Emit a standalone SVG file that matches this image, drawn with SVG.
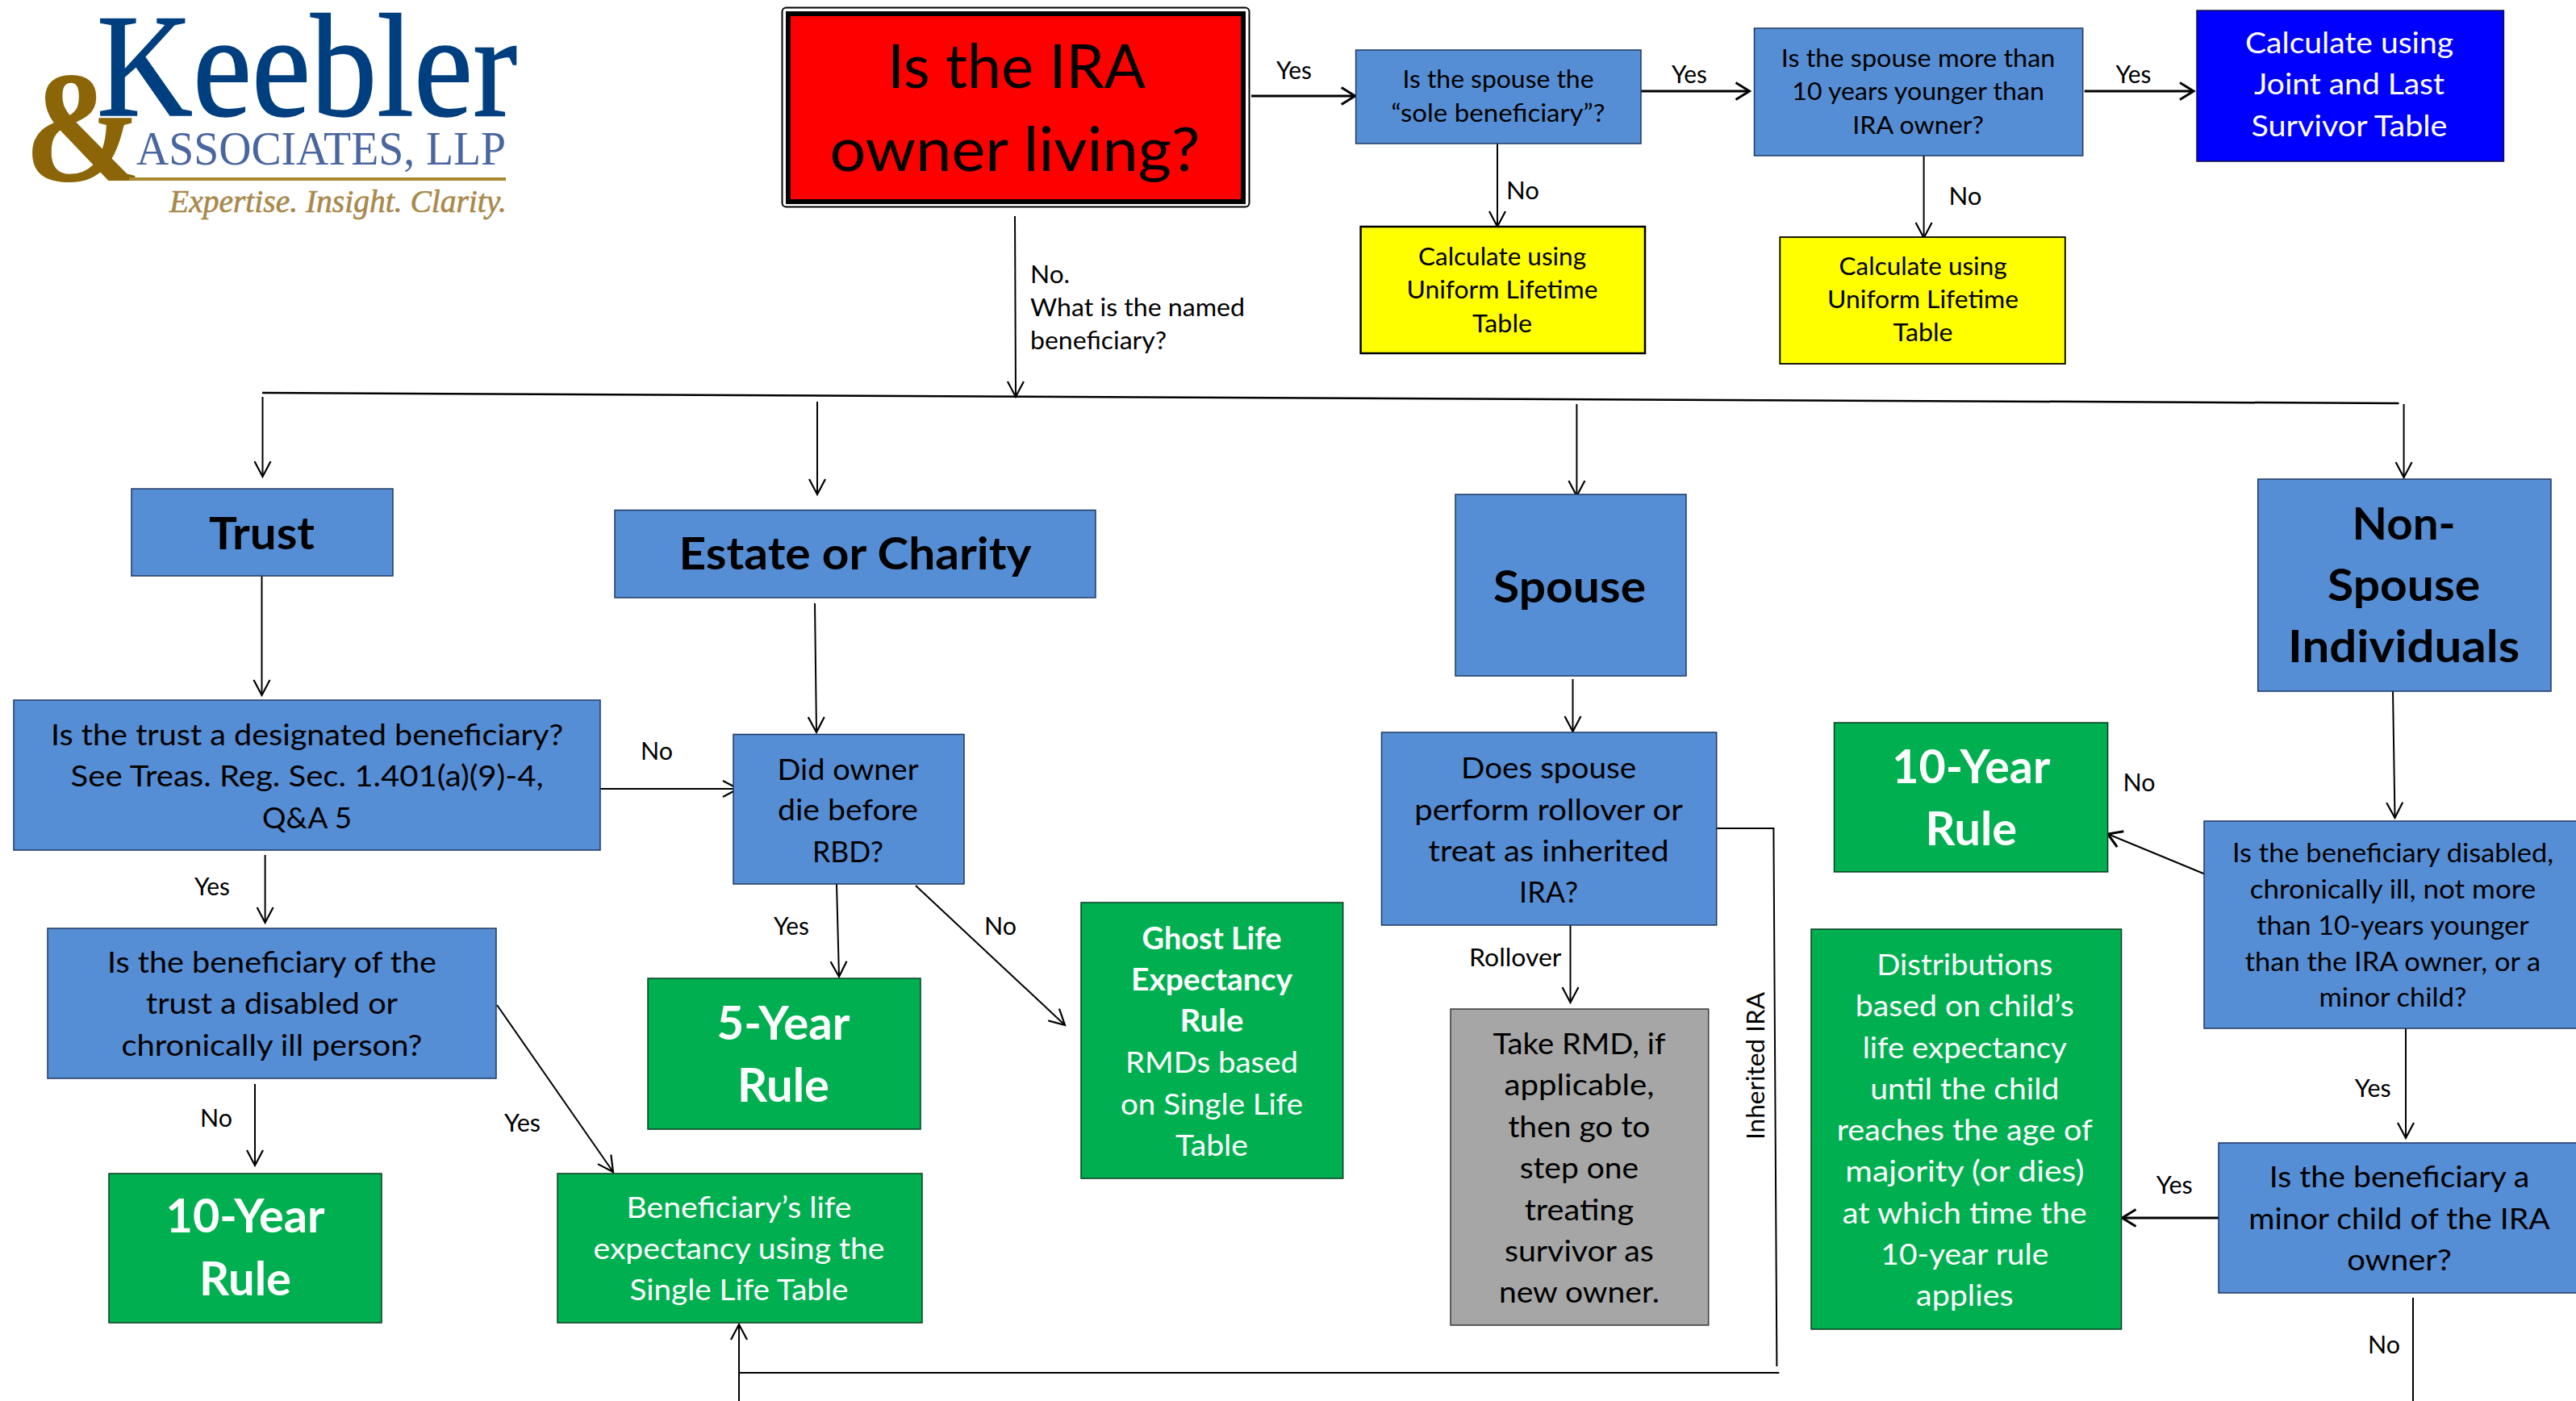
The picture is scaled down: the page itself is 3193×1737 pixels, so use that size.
<svg xmlns="http://www.w3.org/2000/svg" width="3193" height="1737" viewBox="0 0 3193 1737">
<defs>
<marker id="arr" markerUnits="userSpaceOnUse" markerWidth="26" markerHeight="26" refX="23" refY="13" orient="auto"><path d="M4,3 L23,13 L4,23" fill="none" stroke="#000" stroke-width="2.2"/></marker>
<marker id="arrB" markerUnits="userSpaceOnUse" markerWidth="26" markerHeight="28" refX="23" refY="14" orient="auto"><path d="M6,3.500 L23,14 L6,24.500" fill="none" stroke="#000" stroke-width="3"/></marker>
</defs>
<style>
text{font-family:Lato,"Liberation Sans",sans-serif;fill:#000}
.m{text-anchor:middle}
.l{font-size:30px}
.t{font-size:37.500px}
.n{font-size:33px}
.h{font-size:56px;font-weight:700}
.r{font-size:57px;font-weight:700;fill:#fff}
.tb{font-size:37.500px;font-weight:700;fill:#fff}
.w{fill:#fff}
.b{fill:#558ED5;stroke:#1F3864;stroke-width:1.500}
.g{fill:#00B050;stroke:#0A3D20;stroke-width:1.500}
.y{fill:#FF0;stroke:#000;stroke-width:2.500}
.c line,.c path{fill:none;stroke:#000;stroke-width:2}
.c .k{stroke-width:3}
.logo{font-family:"Liberation Serif",serif}
</style>
<rect width="3193" height="1737" fill="#fff"/>

<g id="logo">
<text class="logo" x="30" y="224" font-size="198" font-weight="700" style="fill:#8B6508" textLength="146" lengthAdjust="spacingAndGlyphs">&amp;</text>
<rect x="160" y="220" width="467" height="4" fill="#A8892F"/>
<text class="logo" x="120" y="143" font-size="182" stroke="#003F7F" stroke-width="1.500" style="fill:#003F7F" textLength="521" lengthAdjust="spacingAndGlyphs">Keebler</text>
<text class="logo" x="169" y="204" font-size="59" style="fill:#4A66A0" textLength="458" lengthAdjust="spacingAndGlyphs">ASSOCIATES, LLP</text>
<text class="logo" x="210" y="263" font-size="40" font-style="italic" stroke="#A8894B" stroke-width=".6" style="fill:#A8894B" textLength="418" lengthAdjust="spacingAndGlyphs">Expertise. Insight. Clarity.</text>
</g>

<g id="connectors" class="c">
<line class="k" x1="1551" y1="119" x2="1679.700" y2="119" marker-end="url(#arrB)"/>
<line class="k" x1="2034" y1="113" x2="2168.500" y2="113" marker-end="url(#arrB)"/>
<line class="k" x1="2583.700" y1="113" x2="2719" y2="113" marker-end="url(#arrB)"/>
<line x1="1856" y1="178" x2="1856" y2="281" marker-end="url(#arr)"/>
<line x1="2384.600" y1="191" x2="2384.600" y2="295" marker-end="url(#arr)"/>
<line x1="1258" y1="268" x2="1259" y2="492" marker-end="url(#arr)"/>
<line x1="325" y1="487" x2="2973.500" y2="500" style="stroke-width:2.500"/>
<line x1="325.500" y1="492" x2="325.500" y2="591" marker-end="url(#arr)"/>
<line x1="1013" y1="498" x2="1013" y2="613" marker-end="url(#arr)"/>
<line x1="1954.400" y1="501" x2="1954.400" y2="615" marker-end="url(#arr)"/>
<line x1="2979.600" y1="501" x2="2979.600" y2="592" marker-end="url(#arr)"/>
<line x1="324.500" y1="714" x2="324.500" y2="862" marker-end="url(#arr)"/>
<line x1="744" y1="978" x2="915" y2="978" marker-end="url(#arr)"/>
<line x1="328.600" y1="1060" x2="328.600" y2="1144" marker-end="url(#arr)"/>
<line x1="316" y1="1344" x2="316" y2="1445" marker-end="url(#arr)"/>
<line x1="616" y1="1246" x2="760" y2="1453" marker-end="url(#arr)"/>
<line x1="1010" y1="748" x2="1012" y2="908" marker-end="url(#arr)"/>
<line x1="1037" y1="1096" x2="1040" y2="1211" marker-end="url(#arr)"/>
<line x1="1135" y1="1098" x2="1320" y2="1271" marker-end="url(#arr)"/>
<line x1="1949.500" y1="842" x2="1949.500" y2="907" marker-end="url(#arr)"/>
<line x1="1946.500" y1="1147" x2="1946.500" y2="1243" marker-end="url(#arr)"/>
<path d="M2127.700,1027 H2198.400 L2202.400,1694"/>
<line x1="916" y1="1702" x2="2205.300" y2="1702"/>
<line x1="916" y1="1737" x2="916" y2="1642" marker-end="url(#arr)"/>
<line x1="2966" y1="857" x2="2968.500" y2="1014" marker-end="url(#arr)"/>
<line x1="2736" y1="1085" x2="2612.600" y2="1034" marker-end="url(#arrB)"/>
<line x1="2982" y1="1275" x2="2982" y2="1411" marker-end="url(#arr)"/>
<line class="k" x1="2751" y1="1510" x2="2630.500" y2="1510" marker-end="url(#arrB)"/>
<line x1="2991" y1="1609" x2="2991" y2="1737"/>
</g>

<g id="connector-labels">
<text class="l" x="1582" y="98" textLength="44" lengthAdjust="spacingAndGlyphs">Yes</text>
<text class="l" x="2072" y="103" textLength="44" lengthAdjust="spacingAndGlyphs">Yes</text>
<text class="l" x="2622.500" y="103" textLength="44" lengthAdjust="spacingAndGlyphs">Yes</text>
<text class="l" x="1867" y="247" textLength="41" lengthAdjust="spacingAndGlyphs">No</text>
<text class="l" x="2415.400" y="254" textLength="41" lengthAdjust="spacingAndGlyphs">No</text>
<text class="l" x="1277" y="351" textLength="49" lengthAdjust="spacingAndGlyphs">No.</text>
<text class="l" x="1277" y="392" textLength="266" lengthAdjust="spacingAndGlyphs">What is the named</text>
<text class="l" x="1277" y="433" textLength="169" lengthAdjust="spacingAndGlyphs">beneficiary?</text>
<text class="l" x="794" y="942" textLength="40" lengthAdjust="spacingAndGlyphs">No</text>
<text class="l" x="241" y="1110" textLength="44" lengthAdjust="spacingAndGlyphs">Yes</text>
<text class="l" x="248" y="1397" textLength="40" lengthAdjust="spacingAndGlyphs">No</text>
<text class="l" x="625" y="1403" textLength="45" lengthAdjust="spacingAndGlyphs">Yes</text>
<text class="l" x="959" y="1159" textLength="44" lengthAdjust="spacingAndGlyphs">Yes</text>
<text class="l" x="1220" y="1159" textLength="40" lengthAdjust="spacingAndGlyphs">No</text>
<text class="l" x="1821" y="1198" textLength="114.500" lengthAdjust="spacingAndGlyphs">Rollover</text>
<text class="l" transform="translate(2187.400 1413) rotate(-90)" textLength="183" lengthAdjust="spacingAndGlyphs">Inherited IRA</text>
<text class="l" x="2631.500" y="981" textLength="40" lengthAdjust="spacingAndGlyphs">No</text>
<text class="l" x="2918.700" y="1360" textLength="45" lengthAdjust="spacingAndGlyphs">Yes</text>
<text class="l" x="2672.800" y="1480" textLength="45" lengthAdjust="spacingAndGlyphs">Yes</text>
<text class="l" x="2935" y="1678" textLength="40" lengthAdjust="spacingAndGlyphs">No</text>
</g>

<g id="n-living">
<rect x="969.500" y="9.500" width="579" height="247" rx="5" fill="#fff" stroke="#000" stroke-width="2"/>
<rect x="977" y="17" width="564" height="233" fill="#F00" stroke="#000" stroke-width="6"/>
<text class="m" x="1260" y="109" font-size="75" textLength="320" lengthAdjust="spacingAndGlyphs">Is the IRA</text>
<text class="m" x="1258" y="212" font-size="75" textLength="459" lengthAdjust="spacingAndGlyphs">owner living?</text>
</g>

<g id="n-sole">
<rect class="b" x="1680.600" y="62" width="353.400" height="116"/>
<text class="l m" x="1857" y="109" textLength="237" lengthAdjust="spacingAndGlyphs">Is the spouse the</text>
<text class="l m" x="1857" y="151" textLength="265" lengthAdjust="spacingAndGlyphs">“sole beneficiary”?</text>
</g>

<g id="n-younger">
<rect class="b" x="2174.500" y="35" width="407.200" height="158"/>
<text class="l m" x="2377.600" y="83" textLength="339.500" lengthAdjust="spacingAndGlyphs">Is the spouse more than</text>
<text class="l m" x="2377.600" y="124" textLength="312.500" lengthAdjust="spacingAndGlyphs">10 years younger than</text>
<text class="l m" x="2377.600" y="166" textLength="162.500" lengthAdjust="spacingAndGlyphs">IRA owner?</text>
</g>

<g id="n-joint">
<rect x="2723" y="13" width="380.400" height="187" fill="#00F" stroke="#10104a" stroke-width="1.500"/>
<text class="t m w" x="2912" y="66" textLength="258" lengthAdjust="spacingAndGlyphs">Calculate using</text>
<text class="t m w" x="2912" y="117" textLength="236" lengthAdjust="spacingAndGlyphs">Joint and Last</text>
<text class="t m w" x="2912" y="169" textLength="243" lengthAdjust="spacingAndGlyphs">Survivor Table</text>
</g>

<g id="n-uniform-1">
<rect class="y" x="1686.600" y="281" width="352.400" height="157"/>
<text class="l m" x="1862" y="329" textLength="208" lengthAdjust="spacingAndGlyphs">Calculate using</text>
<text class="l m" x="1862" y="370" textLength="237" lengthAdjust="spacingAndGlyphs">Uniform Lifetime</text>
<text class="l m" x="1862" y="412" textLength="74" lengthAdjust="spacingAndGlyphs">Table</text>
</g>

<g id="n-uniform-2">
<rect class="y" x="2206.300" y="294" width="353.500" height="157" style="stroke-width:1.800"/>
<text class="l m" x="2383.600" y="341" textLength="208" lengthAdjust="spacingAndGlyphs">Calculate using</text>
<text class="l m" x="2383.600" y="382" textLength="237" lengthAdjust="spacingAndGlyphs">Uniform Lifetime</text>
<text class="l m" x="2383.600" y="423" textLength="74" lengthAdjust="spacingAndGlyphs">Table</text>
</g>

<g id="n-trust">
<rect class="b" x="163" y="606" width="324" height="108"/>
<text class="h m" x="324.500" y="681" textLength="131" lengthAdjust="spacingAndGlyphs">Trust</text>
</g>

<g id="n-estate">
<rect class="b" x="762" y="632.500" width="596" height="108.500"/>
<text class="h m" x="1060" y="706" textLength="437" lengthAdjust="spacingAndGlyphs">Estate or Charity</text>
</g>

<g id="n-spouse">
<rect class="b" x="1804" y="613" width="286" height="225"/>
<text class="h m" x="1945.500" y="747" textLength="189" lengthAdjust="spacingAndGlyphs">Spouse</text>
</g>

<g id="n-nonspouse">
<rect class="b" x="2798.700" y="594" width="363.300" height="263"/>
<text class="h m" x="2979.600" y="669" textLength="128" lengthAdjust="spacingAndGlyphs">Non-</text>
<text class="h m" x="2979.600" y="745" textLength="189" lengthAdjust="spacingAndGlyphs">Spouse</text>
<text class="h m" x="2979.600" y="821" textLength="287" lengthAdjust="spacingAndGlyphs">Individuals</text>
</g>

<g id="n-designated">
<rect class="b" x="17" y="868" width="727" height="186"/>
<text class="t m" x="380.600" y="923.500" textLength="635" lengthAdjust="spacingAndGlyphs">Is the trust a designated beneficiary?</text>
<text class="t m" x="380.600" y="975" textLength="586" lengthAdjust="spacingAndGlyphs">See Treas. Reg. Sec. 1.401(a)(9)-4,</text>
<text class="t m" x="380.600" y="1026.500" textLength="111" lengthAdjust="spacingAndGlyphs">Q&amp;A 5</text>
</g>

<g id="n-trust-disabled">
<rect class="b" x="59" y="1151" width="556" height="186"/>
<text class="t m" x="337" y="1205.500" textLength="408" lengthAdjust="spacingAndGlyphs">Is the beneficiary of the</text>
<text class="t m" x="337" y="1256.500" textLength="312" lengthAdjust="spacingAndGlyphs">trust a disabled or</text>
<text class="t m" x="337" y="1308.500" textLength="373" lengthAdjust="spacingAndGlyphs">chronically ill person?</text>
</g>

<g id="n-10year-left">
<rect class="g" x="135" y="1455" width="338" height="185"/>
<text class="r m" x="304" y="1528" textLength="197" lengthAdjust="spacingAndGlyphs">10-Year</text>
<text class="r m" x="304" y="1606" textLength="114" lengthAdjust="spacingAndGlyphs">Rule</text>
</g>

<g id="n-life">
<rect class="g" x="691" y="1455" width="452" height="185"/>
<text class="t m w" x="916" y="1510" textLength="279" lengthAdjust="spacingAndGlyphs">Beneficiary’s life</text>
<text class="t m w" x="916" y="1561" textLength="361" lengthAdjust="spacingAndGlyphs">expectancy using the</text>
<text class="t m w" x="916" y="1612" textLength="271" lengthAdjust="spacingAndGlyphs">Single Life Table</text>
</g>

<g id="n-rbd">
<rect class="b" x="909" y="910.500" width="286" height="185.500"/>
<text class="t m" x="1051" y="966.500" textLength="175" lengthAdjust="spacingAndGlyphs">Did owner</text>
<text class="t m" x="1051" y="1017" textLength="174" lengthAdjust="spacingAndGlyphs">die before</text>
<text class="t m" x="1051" y="1068.500" textLength="88" lengthAdjust="spacingAndGlyphs">RBD?</text>
</g>

<g id="n-5year">
<rect class="g" x="803" y="1213" width="338" height="187"/>
<text class="r m" x="971" y="1289" textLength="165" lengthAdjust="spacingAndGlyphs">5-Year</text>
<text class="r m" x="971" y="1366" textLength="114" lengthAdjust="spacingAndGlyphs">Rule</text>
</g>

<g id="n-ghost">
<rect class="g" x="1340" y="1119" width="324.700" height="342"/>
<text class="tb m" x="1502" y="1176.500" textLength="173" lengthAdjust="spacingAndGlyphs">Ghost Life</text>
<text class="tb m" x="1502" y="1227.500" textLength="200" lengthAdjust="spacingAndGlyphs">Expectancy</text>
<text class="tb m" x="1502" y="1278.500" textLength="79" lengthAdjust="spacingAndGlyphs">Rule</text>
<text class="t m w" x="1502" y="1329.500" textLength="214" lengthAdjust="spacingAndGlyphs">RMDs based</text>
<text class="t m w" x="1502" y="1381.500" textLength="226" lengthAdjust="spacingAndGlyphs">on Single Life</text>
<text class="t m w" x="1502" y="1432.500" textLength="90" lengthAdjust="spacingAndGlyphs">Table</text>
</g>

<g id="n-rollover">
<rect class="b" x="1712.500" y="908" width="415.200" height="239"/>
<text class="t m" x="1919.600" y="964.500" textLength="217" lengthAdjust="spacingAndGlyphs">Does spouse</text>
<text class="t m" x="1919.600" y="1016.500" textLength="332.500" lengthAdjust="spacingAndGlyphs">perform rollover or</text>
<text class="t m" x="1919.600" y="1067.500" textLength="298" lengthAdjust="spacingAndGlyphs">treat as inherited</text>
<text class="t m" x="1919.600" y="1118.500" textLength="73" lengthAdjust="spacingAndGlyphs">IRA?</text>
</g>

<g id="n-rmd">
<rect x="1798" y="1251" width="319.700" height="392" fill="#A6A6A6" stroke="#3a3a3a" stroke-width="1.500"/>
<text class="t m" x="1957.400" y="1306.500" textLength="214" lengthAdjust="spacingAndGlyphs">Take RMD, if</text>
<text class="t m" x="1957.400" y="1357.500" textLength="186" lengthAdjust="spacingAndGlyphs">applicable,</text>
<text class="t m" x="1957.400" y="1409.500" textLength="176" lengthAdjust="spacingAndGlyphs">then go to</text>
<text class="t m" x="1957.400" y="1461" textLength="147.500" lengthAdjust="spacingAndGlyphs">step one</text>
<text class="t m" x="1957.400" y="1512.500" textLength="135.500" lengthAdjust="spacingAndGlyphs">treating</text>
<text class="t m" x="1957.400" y="1563.500" textLength="185" lengthAdjust="spacingAndGlyphs">survivor as</text>
<text class="t m" x="1957.400" y="1614.500" textLength="199" lengthAdjust="spacingAndGlyphs">new owner.</text>
</g>

<g id="n-10year-right">
<rect class="g" x="2273.500" y="896" width="339.100" height="185"/>
<text class="r m" x="2443.300" y="970.500" textLength="196" lengthAdjust="spacingAndGlyphs">10-Year</text>
<text class="r m" x="2443.300" y="1048" textLength="113.500" lengthAdjust="spacingAndGlyphs">Rule</text>
</g>

<g id="n-child">
<rect class="g" x="2245" y="1152" width="384.500" height="496"/>
<text class="t m w" x="2435.300" y="1208.500" textLength="218" lengthAdjust="spacingAndGlyphs">Distributions</text>
<text class="t m w" x="2435.300" y="1260" textLength="271" lengthAdjust="spacingAndGlyphs">based on child’s</text>
<text class="t m w" x="2435.300" y="1311.500" textLength="253" lengthAdjust="spacingAndGlyphs">life expectancy</text>
<text class="t m w" x="2435.300" y="1362.500" textLength="234" lengthAdjust="spacingAndGlyphs">until the child</text>
<text class="t m w" x="2435.300" y="1413.500" textLength="317" lengthAdjust="spacingAndGlyphs">reaches the age of</text>
<text class="t m w" x="2435.300" y="1464.500" textLength="296" lengthAdjust="spacingAndGlyphs">majority (or dies)</text>
<text class="t m w" x="2435.300" y="1516.500" textLength="303" lengthAdjust="spacingAndGlyphs">at which time the</text>
<text class="t m w" x="2435.300" y="1567.500" textLength="208" lengthAdjust="spacingAndGlyphs">10-year rule</text>
<text class="t m w" x="2435.300" y="1618.500" textLength="120.500" lengthAdjust="spacingAndGlyphs">applies</text>
</g>

<g id="n-disabled">
<rect class="b" x="2732" y="1018" width="475" height="257"/>
<text class="n m" x="2966" y="1069" textLength="398" lengthAdjust="spacingAndGlyphs">Is the beneficiary disabled,</text>
<text class="n m" x="2966" y="1114" textLength="354.500" lengthAdjust="spacingAndGlyphs">chronically ill, not more</text>
<text class="n m" x="2966" y="1159" textLength="337.500" lengthAdjust="spacingAndGlyphs">than 10-years younger</text>
<text class="n m" x="2966" y="1204" textLength="366.500" lengthAdjust="spacingAndGlyphs">than the IRA owner, or a</text>
<text class="n m" x="2966" y="1248" textLength="183" lengthAdjust="spacingAndGlyphs">minor child?</text>
</g>

<g id="n-minor">
<rect class="b" x="2750" y="1417" width="455" height="186"/>
<text class="t m" x="2974" y="1472" textLength="322.500" lengthAdjust="spacingAndGlyphs">Is the beneficiary a</text>
<text class="t m" x="2974" y="1523.500" textLength="373.500" lengthAdjust="spacingAndGlyphs">minor child of the IRA</text>
<text class="t m" x="2974" y="1574.500" textLength="129.500" lengthAdjust="spacingAndGlyphs">owner?</text>
</g>
</svg>
